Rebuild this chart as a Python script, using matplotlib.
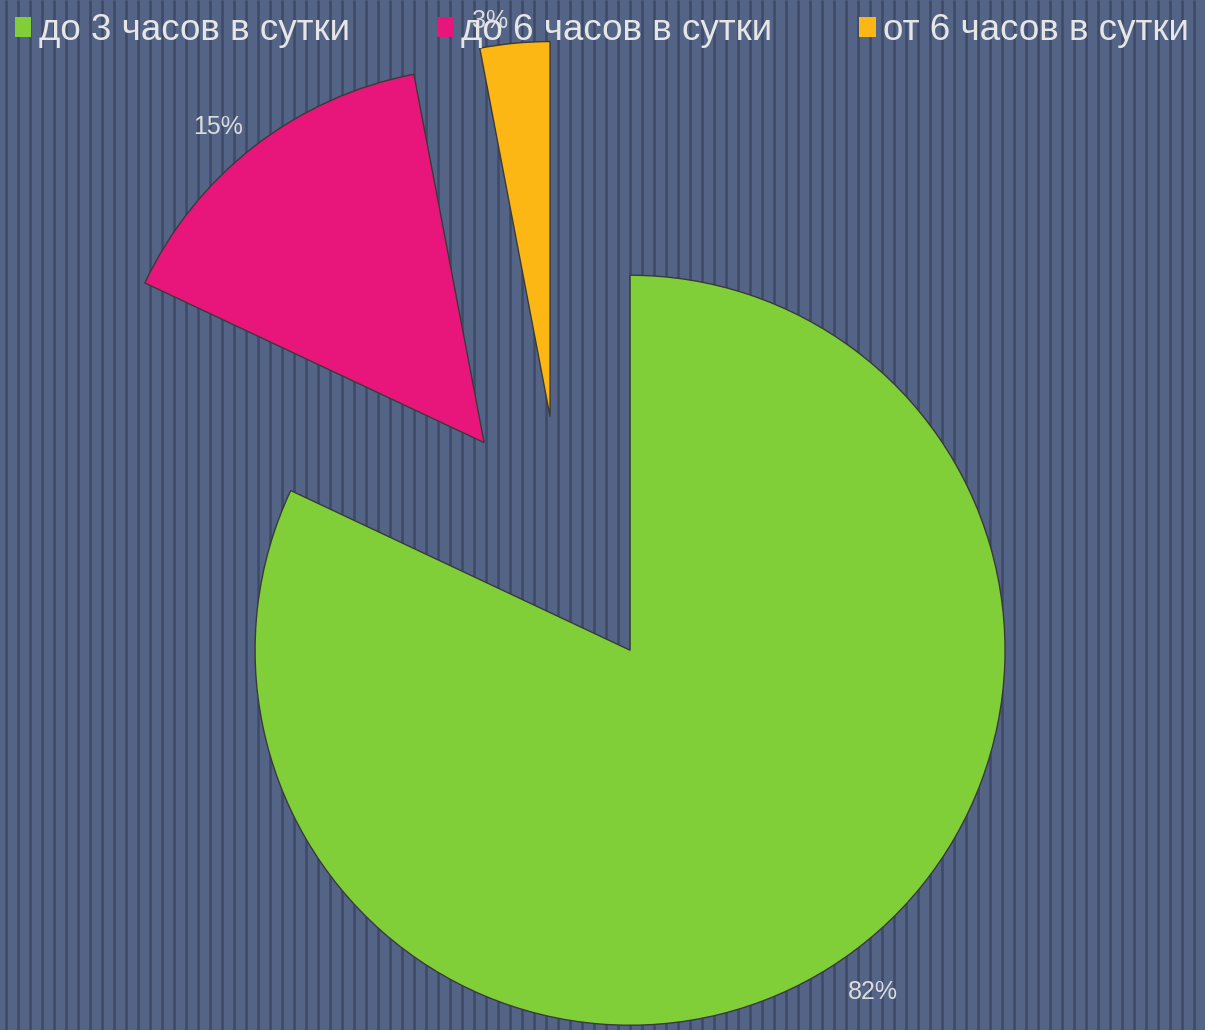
# Pie chart: hours per day (exploded wedges, striped background)

import numpy as np
import matplotlib.pyplot as plt
from matplotlib.patches import Patch

labels = ['до 3 часов в сутки', 'до 6 часов в сутки', 'от 6 часов в сутки']
values = [82, 15, 3]
colors = ['#80cf38', '#e8157b', '#fdb714']

plt.rcParams['font.family'] = ['Liberation Sans', 'DejaVu Sans']

W, H = 1205, 1030
fig = plt.figure(figsize=(W / 100, H / 100), dpi=100)
fig.patch.set_facecolor('#536487')
ax = fig.add_axes([0, 0, 1, 1])
ax.set_facecolor('#536487')
ax.set_xlim(0, W)
ax.set_ylim(-H, 0)
ax.set_aspect('equal')
ax.axis('off')

# vertical stripes
xs = np.arange(6, W, 12)
ax.vlines(xs, -H, 0, color='#3d4965', lw=1.8, zorder=0)

# explode is in data units here (pixels), not fractions of the radius
wedges, texts, autotexts = ax.pie(
    values, colors=colors, startangle=90, counterclock=False,
    explode=[127, 127, 127], center=(562, -543), radius=375,
    autopct='%1.0f%%', pctdistance=1.1,
    wedgeprops=dict(edgecolor='#3a3a3a', linewidth=1),
    textprops=dict(color='#dcdcdc', fontsize=18))
ax.set_xlim(0, W)
ax.set_ylim(-H, 0)

# nudge the percent labels a little, like the original
nudges = [(22, 7), (-13, -10), (-21, -15)]
for t, (dx, dy) in zip(autotexts, nudges):
    x, y = t.get_position()
    t.set_position((x + dx, y + dy))

handles = [Patch(facecolor=c, edgecolor='none') for c in colors]
leg = ax.legend(handles, labels, ncol=3, loc='upper left',
                bbox_to_anchor=(-0.009, 1.012), frameon=False,
                fontsize=26.5, labelcolor='#e6e6e6',
                handlelength=0.45, handleheight=0.45, handletextpad=0.2,
                columnspacing=2.37, borderpad=0.2)

fig.savefig('out.png', dpi=100, facecolor=fig.get_facecolor())
